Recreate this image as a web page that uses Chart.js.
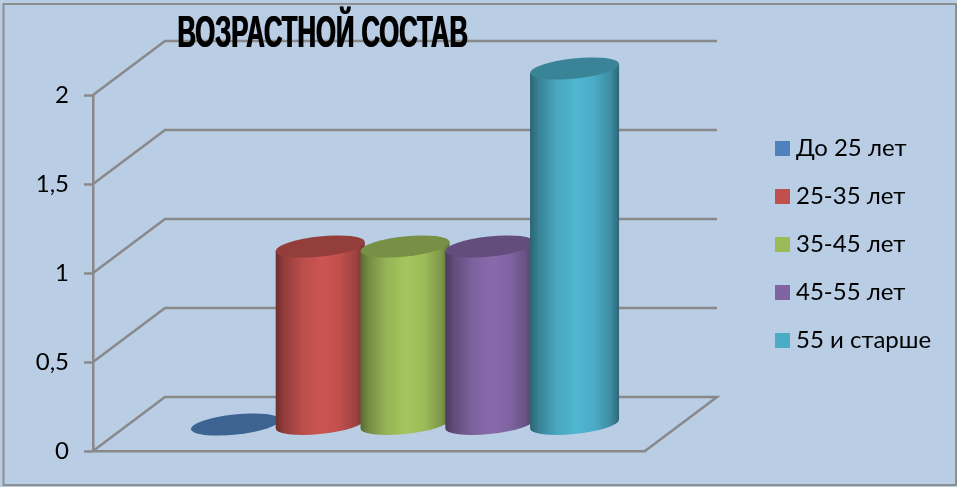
<!DOCTYPE html>
<html lang="ru">
<head>
<meta charset="utf-8">
<title>Возрастной состав</title>
<style>html,body{margin:0;padding:0;background:#b9cde5}canvas{display:block}</style>
<script src="https://cdn.jsdelivr.net/npm/chart.js@4"></script>
</head>
<body>
<div style="width:957px;height:487px"><canvas id="c" width="957" height="487"></canvas></div>
<script>
const categories = [''];
const seriesNames = ['До 25 лет', '25-35 лет', '35-45 лет', '45-55 лет', '55 и старше'];
const seriesValues = [0, 1, 1, 1, 2];
const seriesColors = ['#4f81bd', '#c0504d', '#9bbb59', '#8064a2', '#4bacc6'];
const yTicks = { min: 0, max: 2, step: 0.5 };
const chartTitle = 'ВОЗРАСТНОЙ СОСТАВ';

const BG = '#b9cde5', LINE = '#898989';
const DEPTH_X = 72, DEPTH_Y = -54;      // wall depth
const MID_X = 36, MID_Y = -26.5;        // cylinders stand in the middle of the floor

function shade(hex, f) {
  const n = parseInt(hex.slice(1), 16);
  const c = s => Math.max(0, Math.min(255, Math.round(((n >> s) & 255) * f)));
  return `rgb(${c(16)},${c(8)},${c(0)})`;
}

// Bars of this chart are cylinders: same element, same geometry, other outline.
const BarEl = Chart.BarElement;
BarEl.prototype.draw = function (ctx) {
  const { x, y, base, width } = this.getProps(['x', 'y', 'base', 'width']);
  const color = this.options.backgroundColor;
  const hw = width * 0.525, a = width * 0.5275, b = width * 0.118;
  const rot = -6.07 * Math.PI / 180, tip = width * 0.053;
  const t0 = Math.atan(-(b / a) * Math.tan(rot));
  ctx.save();
  if (base - y > 0.5) {
    const g = ctx.createLinearGradient(x - hw, 0, x + hw, 0);
    [[0, .58], [.1, .76], [.3, .97], [.52, 1.06], [.72, 1], [.9, .82], [1, .6]]
      .forEach(s => g.addColorStop(s[0], shade(color, s[1])));
    ctx.fillStyle = g;
    ctx.beginPath();
    ctx.moveTo(x - hw, y + tip);
    ctx.lineTo(x - hw, base + tip);
    ctx.ellipse(x, base, a, b, rot, Math.PI + t0, t0, true);
    ctx.lineTo(x + hw, y - tip);
    ctx.closePath();
    ctx.fill();
  }
  ctx.fillStyle = shade(color, 0.77);
  ctx.beginPath();
  ctx.ellipse(x, y, a, b, rot, 0, Math.PI * 2);
  ctx.fill();
  ctx.restore();
};

const scene = {
  id: 'scene',
  beforeLayout(chart) {
    const l = chart.legend, t = chart.titleBlock;
    if (!l._fixed) {
      l._fixed = true;
      const fit = l.fit;
      l.fit = function () { fit.call(this); this.width = 200; };
      const td = t.draw;
      t.draw = function () {
        const ctx = this.ctx;
        ctx.save();
        ctx.translate(177, 0); ctx.scale(0.582, 1); ctx.translate(-177, 0);
        ctx.shadowColor = '#000'; ctx.shadowBlur = 0; ctx.shadowOffsetX = 1;
        td.call(this);
        ctx.restore();
      };
    }
  },
  afterLayout(chart) {
    const l = chart.legend, t = chart.titleBlock;
    l.top = 112.5; l.bottom = l.top + l.height;
    t.left = 177; t.right = 800;
  },
  beforeDraw(chart) {
    const { ctx, scales: { y }, chartArea: a } = chart;
    ctx.save();
    ctx.fillStyle = BG;
    ctx.fillRect(0, 0, chart.width, chart.height);
    ctx.strokeStyle = '#8e8e8e'; ctx.lineWidth = 2;
    ctx.strokeRect(3.5, 4, 952.5, 481);
    ctx.strokeStyle = LINE; ctx.lineWidth = 2.5;
    ctx.lineJoin = 'miter';
    const L = a.left, R = a.right;
    y.ticks.forEach(tk => {
      const p = y.getPixelForValue(tk.value);
      ctx.beginPath();
      ctx.moveTo(L, p);
      ctx.lineTo(L + DEPTH_X, p + DEPTH_Y);
      ctx.lineTo(R + DEPTH_X, p + DEPTH_Y);
      if (tk.value === yTicks.min) ctx.lineTo(R, p);
      ctx.stroke();
    });
    ctx.restore();
  },
  beforeDatasetsDraw(chart) {
    const ctx = chart.ctx;
    ctx.save();
    ctx.translate(MID_X, MID_Y);
    chart.getSortedVisibleDatasetMetas().forEach(m => m.controller.draw());
    ctx.restore();
    return false;
  }
};

new Chart(document.getElementById('c'), {
  type: 'bar',
  plugins: [scene],
  data: {
    labels: categories,
    datasets: seriesNames.map((name, i) => ({
      label: name,
      data: [seriesValues[i]],
      backgroundColor: seriesColors[i],
      barPercentage: 1,
      categoryPercentage: 0.768
    }))
  },
  options: {
    responsive: false,
    animation: false,
    events: [],
    layout: { padding: { left: 0, right: 0, top: 0, bottom: 36 } },
    scales: {
      x: {
        grid: { drawOnChartArea: false, drawTicks: false },
        border: { color: LINE, width: 2.5 },
        ticks: { display: false }
      },
      y: {
        min: yTicks.min, max: yTicks.max,
        afterFit(s) { s.width = 93; },
        grid: { drawOnChartArea: false, tickLength: 9, tickColor: LINE, tickWidth: 2.5 },
        border: { color: LINE, width: 2.5 },
        ticks: {
          stepSize: yTicks.step, padding: 15, color: '#000',
          font: { family: 'Lato, "Open Sans", sans-serif', size: 24 },
          callback: v => String(v).replace('.', ',')
        }
      },
      spacer: {
        type: 'linear', position: 'right', display: true,
        afterFit(s) { s.width = 112; },
        grid: { display: false }, border: { display: false }, ticks: { display: false }
      }
    },
    plugins: {
      title: {
        display: true, text: chartTitle, align: 'start', color: '#000',
        font: { family: '"Liberation Sans", sans-serif', size: 44, weight: 'bold' },
        padding: { top: 8, bottom: 34.2 }
      },
      legend: {
        display: true, position: 'right', align: 'start',
        labels: {
          color: '#000', boxWidth: 3, boxHeight: 3, padding: 24,
          font: { family: 'Lato, "Open Sans", sans-serif', size: 24 },
          generateLabels(chart) {
            return Chart.defaults.plugins.legend.labels.generateLabels(chart).map(it =>
              Object.assign(it, { lineWidth: 12, strokeStyle: it.fillStyle }));
          }
        }
      },
      tooltip: { enabled: false }
    }
  }
});
</script>
</body>
</html>
